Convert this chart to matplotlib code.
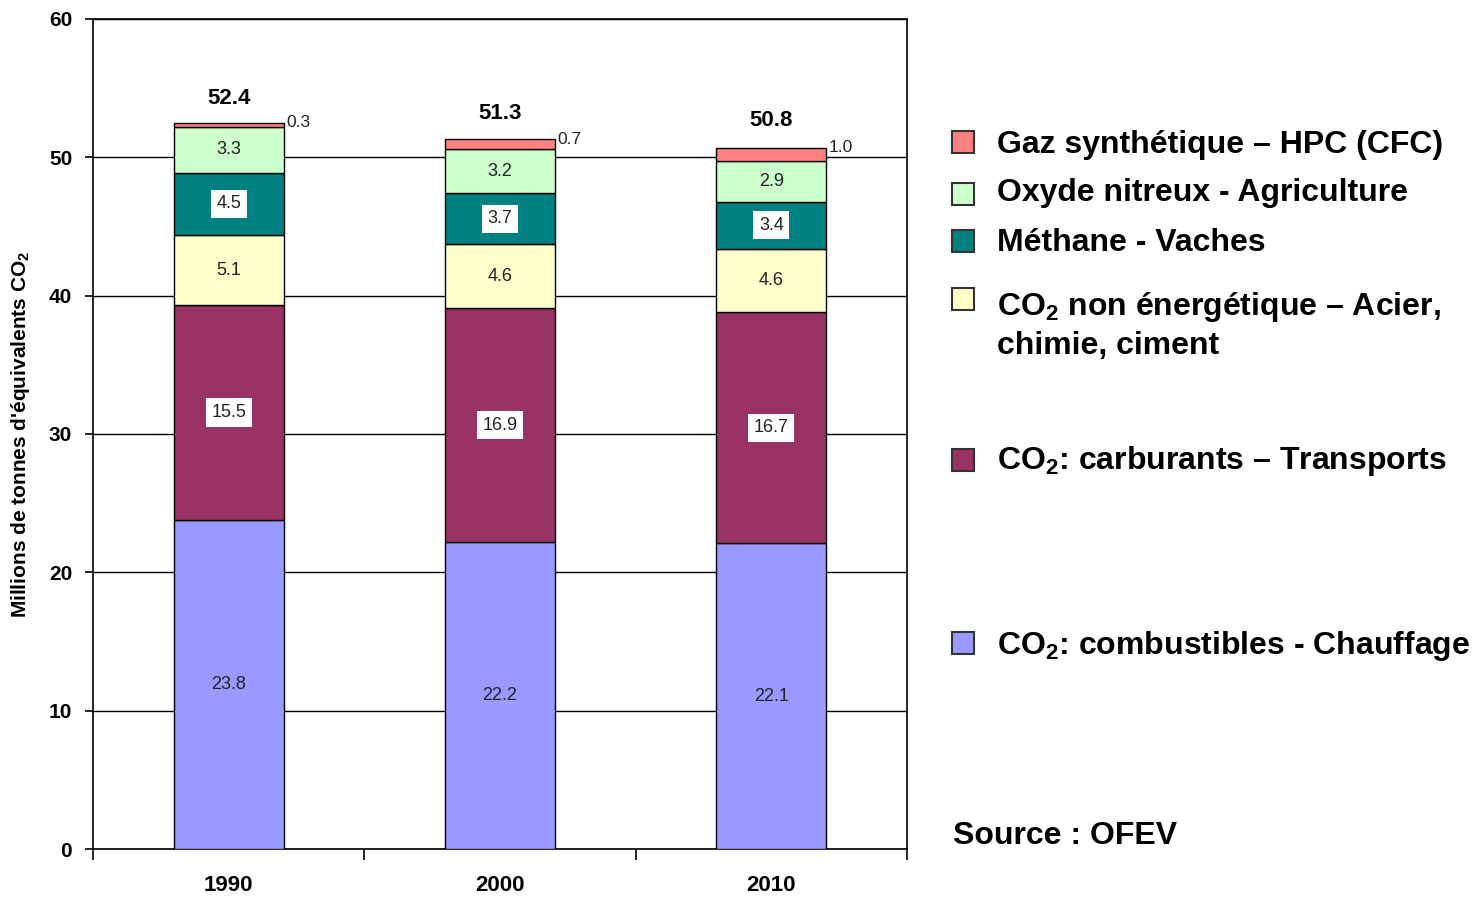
import numpy as np
import matplotlib
matplotlib.use("Agg")
import matplotlib.pyplot as plt
from matplotlib.patches import Rectangle

plt.rcParams['font.family'] = ['Liberation Sans', 'DejaVu Sans']
plt.rcParams['mathtext.fontset'] = 'custom'
plt.rcParams['mathtext.bf'] = 'Liberation Sans:bold'
plt.rcParams['mathtext.rm'] = 'Liberation Sans:bold'
plt.rcParams['mathtext.default'] = 'bf'

years = ['1990', '2000', '2010']
combustibles = [23.8, 22.2, 22.1]
carburants = [15.5, 16.9, 16.7]
non_energetique = [5.1, 4.6, 4.6]
methane = [4.5, 3.7, 3.4]
oxyde_nitreux = [3.3, 3.2, 2.9]
gaz_synth = [0.3, 0.7, 1.0]
totals = [52.4, 51.3, 50.8]

series = [combustibles, carburants, non_energetique, methane, oxyde_nitreux, gaz_synth]
colors = ['#9999FF', '#993366', '#FFFFCC', '#008080', '#CCFFCC', '#FF8080']
boxed = [False, True, False, True, False, False]

fig = plt.figure(figsize=(14.79, 8.99), dpi=100)
ax = fig.add_axes([0.0629, 0.0556, 0.5504, 0.9233])

x = np.arange(len(years))
width = 0.405
bottom = np.zeros(len(years))
for i, vals in enumerate(series):
    vals = np.array(vals)
    ax.bar(x, vals, width, bottom=bottom, color=colors[i], edgecolor='black',
           linewidth=1.0, zorder=3)
    for j in range(len(years)):
        if i == len(series) - 1:
            # small values sit to the right of the bar top
            ax.text(x[j] + width / 2 + 0.01, bottom[j] + vals[j], f"{vals[j]:.1f}",
                    fontsize=12.5, ha='left', va='center', color='#222222', zorder=5)
        else:
            kw = {}
            if boxed[i]:
                kw['bbox'] = dict(facecolor='white', edgecolor='none', pad=4)
            ax.text(x[j], bottom[j] + vals[j] / 2, f"{vals[j]:.1f}", fontsize=13,
                    ha='center', va='center', color='#222222', zorder=5, **kw)
    bottom += vals

for j in range(len(years)):
    ax.text(x[j], totals[j] + 1.85, f"{totals[j]:.1f}", fontsize=16, fontweight='bold',
            ha='center', va='center', zorder=5)

ax.set_xlim(-0.5, 2.5)
ax.set_ylim(0, 60)
ax.set_yticks(range(0, 61, 10))
ax.set_yticklabels([str(v) for v in range(0, 61, 10)], fontsize=15, fontweight='bold')
ax.set_xticks(x)
ax.set_xticklabels(years, fontsize=16, fontweight='bold')
ax.tick_params(axis='x', length=0, pad=19)
ax.tick_params(axis='y', length=6, width=1.2, direction='out', pad=9)
ax.set_xticks([-0.5, 0.5, 1.5, 2.5], minor=True)
ax.tick_params(axis='x', which='minor', length=8, width=1.2, direction='out')
ax.yaxis.grid(True, color='black', linewidth=1.0, zorder=0)
for s in ax.spines.values():
    s.set_linewidth(1.2)
ax.set_ylabel(r"Millions de tonnes d'équivalents CO$_2$", fontsize=15, fontweight='bold',
              labelpad=12)

# Custom legend on the right
legend_labels = [
    "Gaz synthétique – HPC (CFC)",
    "Oxyde nitreux - Agriculture",
    "Méthane - Vaches",
    "CO$_2$ non énergétique – Acier,\nchimie, ciment",
    "CO$_2$: carburants – Transports",
    "CO$_2$: combustibles - Chauffage",
]
legend_colors = colors[::-1]
legend_y = [145, 193, 243, 307, 461, 646]
box_y = [142, 194, 241, 299, 460, 643]
for lab, c, yp, by in zip(legend_labels, legend_colors, legend_y, box_y):
    fy = 1 - yp / 899
    fig.patches.append(Rectangle((952 / 1479, 1 - (by + 11) / 899), 22 / 1479, 22 / 899,
                                 transform=fig.transFigure, facecolor=c, edgecolor='#333333',
                                 linewidth=1.5))
    if '\n' in lab:
        fig.text(997 / 1479, fy + 17 / 899, lab, fontsize=23, fontweight='bold', ha='left',
                 va='top', linespacing=1.3)
    else:
        fig.text(997 / 1479, fy, lab, fontsize=23, fontweight='bold', ha='left', va='center')

fig.text(953 / 1479, 1 - 836 / 899, "Source : OFEV", fontsize=23, fontweight='bold',
         ha='left', va='center')

fig.savefig("out.png", dpi=100)
